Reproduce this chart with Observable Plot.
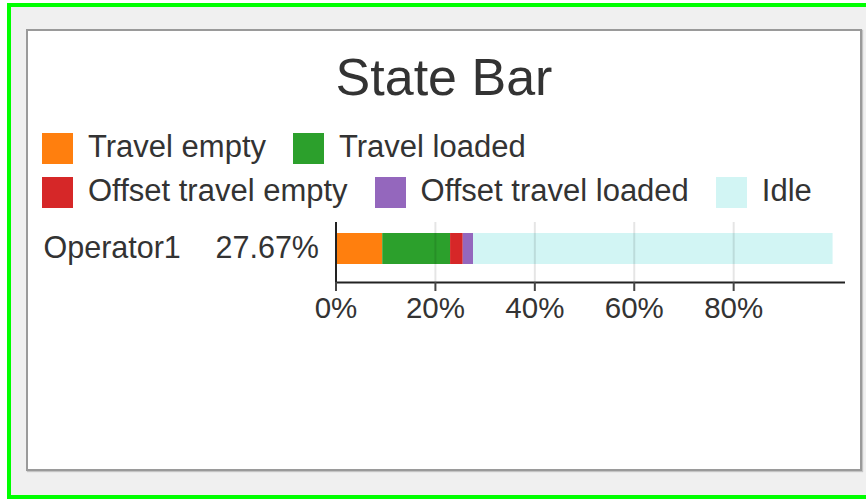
<!DOCTYPE html>
<html>
<head>
<meta charset="utf-8">
<script src="https://cdn.jsdelivr.net/npm/d3@7"></script>
<script src="https://cdn.jsdelivr.net/npm/@observablehq/plot@0.6"></script>
<style>
  html, body { margin: 0; padding: 0; }
  body { width: 866px; height: 499px; position: relative; overflow: hidden; background: #ffffff;
         font-family: "Liberation Sans", Arial, sans-serif; color: #333; }
  #outer { position: absolute; left: 7px; top: 3px; width: 880px; height: 496px; box-sizing: border-box;
           border: 4px solid #00ff00; border-right: none; background: #f0f0f0; }
  #panel { position: absolute; left: 26px; top: 29px; width: 836px; height: 442px; box-sizing: border-box;
           border: 2px solid #9a9a9a; box-shadow: 1px 1px 1px #c4c4c4; background: #ffffff; }
  #title { position: absolute; left: 26px; width: 836px; top: 51px; text-align: center;
           font-size: 52px; line-height: 1; color: #333; }
  #legend { position: absolute; left: 42px; top: 133px; width: 800px; display: flex; flex-wrap: wrap;
            column-gap: 27px; row-gap: 13px; }
  .item { display: flex; align-items: center; gap: 15px; height: 31px; }
  .sw { width: 31px; height: 31px; flex: none; }
  .lab { font-size: 31px; line-height: 31px; color: #333; white-space: nowrap; position: relative; top: -2px; }
  #chart { position: absolute; left: 0; top: 200px; }
</style>
</head>
<body>
<div id="outer"></div>
<div id="panel"></div>
<div id="title">State Bar</div>
<div id="legend"></div>
<div id="chart"></div>
<script>
const chartTitle = "State Bar";
const operators = ["Operator1"];
const utilLabels = ["27.67%"];
const states = ["Travel empty", "Travel loaded", "Offset travel empty", "Offset travel loaded", "Idle"];
const stateColors = ["#ff7f0e", "#2ca02c", "#d62728", "#9467bd", "#d2f5f4"];
const operator1Shares = [0.094, 0.1365, 0.0255, 0.0207, 0.7233];
const xTicks = [0, 0.2, 0.4, 0.6, 0.8];
const xMax = 1.025;

document.getElementById("title").textContent = chartTitle;

// legend
const legend = document.getElementById("legend");
states.forEach((s, i) => {
  const it = document.createElement("div");
  it.className = "item";
  const sw = document.createElement("div");
  sw.className = "sw";
  sw.style.background = stateColors[i];
  const lab = document.createElement("div");
  lab.className = "lab";
  lab.textContent = s;
  it.appendChild(sw);
  it.appendChild(lab);
  legend.appendChild(it);
});

const allShares = [operator1Shares];
const rows = [];
operators.forEach((name, oi) => {
  states.forEach((state, si) => rows.push({name, state, value: allShares[oi][si]}));
});
const labelRows = operators.map((name, i) => ({name, label: utilLabels[i]}));

const chart = Plot.plot({
  width: 866,
  height: 130,
  marginLeft: 335.5,
  marginRight: 21,
  marginTop: 22,
  marginBottom: 48,
  style: {fontFamily: "'Liberation Sans', Arial, sans-serif", fontSize: "29px", color: "#333", background: "transparent", overflow: "visible"},
  x: {domain: [0, xMax]},
  y: {domain: operators, axis: null, padding: 0},
  color: {domain: states, range: stateColors},
  marks: [
    Plot.barX(rows, {x: "value", y: "name", fill: "state", insetTop: 11, insetBottom: 18}),
    Plot.gridX(xTicks.filter(d => d > 0), {stroke: "#000", strokeOpacity: 0.1, strokeWidth: 2}),
    Plot.ruleX([0], {stroke: "#222", strokeWidth: 2}),
    Plot.ruleY(operators, {y: d => d, x1: 0, x2: xMax, dy: 30, stroke: "#222", strokeWidth: 2}),
    Plot.axisX({ticks: xTicks, tickSize: 9, tickPadding: 6, tickFormat: d3.format(".0%"), label: null,
                fontSize: 29.5, stroke: "#444", strokeWidth: 2, fill: "#333"}),
    Plot.text(labelRows, {x: 0, y: "name", text: "name", textAnchor: "start", dx: -292.5, dy: -4, fontSize: 30.5, fill: "#333"}),
    Plot.text(labelRows, {x: 0, y: "name", text: "label", textAnchor: "end", dx: -17, dy: -4, fontSize: 30.5, fill: "#333"})
  ]
});
document.getElementById("chart").appendChild(chart);
</script>
</body>
</html>
